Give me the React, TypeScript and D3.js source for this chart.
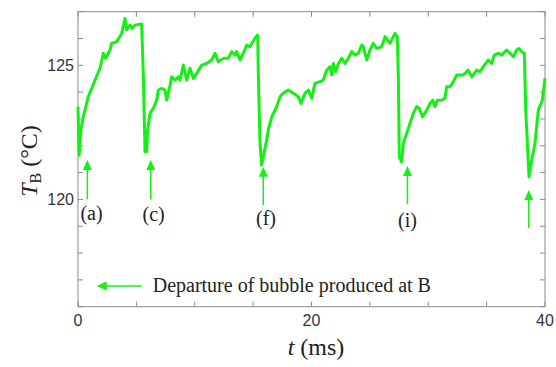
import React from "react";
import * as d3 from "d3";

// Bubble-site temperature record T_B over time
const timeMs = [
  0.0, 0.1, 0.25, 0.45, 0.88, 1.46, 1.88, 2.17, 2.37, 2.74, 2.88, 3.31, 3.74, 4.03, 4.17, 4.45, 4.65, 4.88, 5.45,
  5.6, 5.74, 5.88, 5.97, 6.17, 6.45, 6.74, 6.88, 7.17, 7.45, 7.6, 7.88, 8.02, 8.31, 8.6, 8.74, 9.02, 9.31, 9.59,
  9.88, 10.17, 10.6, 11.02, 11.45, 11.74, 12.02, 12.45, 12.87, 13.17, 13.45, 13.59, 13.88, 14.16, 14.45, 14.73,
  15.16, 15.39, 15.44, 15.59, 15.73, 15.87, 16.16, 16.3, 16.59, 17.02, 17.3, 17.59, 18.01, 18.44, 18.87, 19.1,
  19.44, 19.73, 20.01, 20.3, 20.73, 21.01, 21.3, 21.58, 21.73, 21.87, 22.07, 22.3, 22.59, 22.87, 23.15, 23.44,
  23.73, 24.01, 24.3, 24.44, 24.73, 25.01, 25.29, 25.58, 26.01, 26.3, 26.72, 27.15, 27.35, 27.44, 27.52, 27.72,
  27.86, 28.15, 28.44, 28.72, 29.01, 29.23, 29.52, 29.87, 30.15, 30.38, 30.58, 30.78, 31.15, 31.43, 31.58, 31.86,
  32.15, 32.44, 32.72, 33.0, 33.43, 33.72, 34.15, 34.43, 34.72, 35.14, 35.43, 35.66, 36.0, 36.29, 36.72, 37.0,
  37.29, 37.57, 37.77, 38.0, 38.23, 38.35, 38.63, 38.86, 39.14, 39.43, 39.77, 40.0,
];
const tempB = [
  123.46, 121.65, 122.6, 123.08, 123.83, 124.45, 124.89, 125.45, 125.26, 125.57, 125.82, 125.88, 126.19, 126.75,
  126.32, 126.5, 126.38, 126.5, 126.54, 124.57, 121.78, 121.78, 122.59, 123.21, 123.4, 123.7, 124.08, 124.14,
  124.08, 123.7, 124.25, 124.57, 124.45, 124.57, 124.45, 125.01, 124.45, 124.89, 124.51, 124.7, 125.01, 125.07,
  125.2, 125.45, 125.13, 125.26, 125.26, 125.51, 125.38, 125.51, 125.2, 125.45, 125.76, 125.69, 126.01, 126.13,
  124.82, 122.09, 121.28, 121.59, 122.21, 122.59, 123.08, 123.46, 123.83, 123.96, 124.08, 123.96, 123.83, 123.58,
  123.96, 124.08, 123.77, 124.33, 124.39, 124.45, 124.82, 124.95, 124.64, 125.07, 124.76, 125.07, 125.26, 125.07,
  125.26, 125.51, 125.38, 125.45, 125.76, 125.69, 125.2, 125.57, 125.82, 125.63, 125.69, 126.07, 125.82, 126.19,
  126.07, 124.57, 121.59, 121.4, 122.09, 122.46, 122.84, 123.21, 123.46, 123.4, 123.08, 123.33, 123.58, 123.7,
  123.46, 123.7, 123.7, 123.77, 124.2, 124.2, 124.39, 124.64, 124.64, 124.64, 124.82, 124.57, 124.82, 124.76,
  124.95, 125.2, 125.07, 125.38, 125.45, 125.38, 125.57, 125.45, 125.32, 125.57, 125.63, 125.51, 125.45, 123.33,
  120.84, 121.47, 122.09, 123.33, 123.7, 124.51,
];

// Departure markers: time, arrow tip temperature, arrow tail temperature
const departureT = [0.8, 6.23, 15.87, 28.22, 38.61];
const departureTip = [121.47, 121.47, 121.22, 121.25, 120.35];
const departureTail = [120.0, 120.0, 119.79, 119.82, 118.93];

// Frame labels
const frameLabels = ["(a)", "(c)", "(f)", "(i)"];
const frameLabelT = [1.16, 6.48, 16.1, 28.22];
const frameLabelTemp = [119.23, 119.2, 119.04, 118.98];

const xTicks = [0, 5, 10, 15, 20, 25, 30, 35, 40];
const xTickLabels = [0, 20, 40];
const yTicks = [116, 117, 118, 119, 120, 121, 122, 123, 124, 125, 126, 127];
const yTickLabels = [120, 125];

const legendText = "Departure of bubble produced at B";

const W = 556;
const H = 367;
const GREEN = "#14f014";
const AXIS = "#8a8a8a";
const SANS = "'Liberation Sans', Arial, sans-serif";
const SERIF = "'Liberation Serif', 'Times New Roman', serif";

export default function App() {
  const x = d3.scaleLinear().domain([0, 40]).range([78, 545]);
  const y = d3.scaleLinear().domain([116, 127]).range([306.7, 11.7]);
  const [x0, x1] = x.range();
  const [yb, yt] = y.range();
  const tick = 5;

  const pts = timeMs.map((t, i) => [t, tempB[i]] as [number, number]);
  const line = d3
    .line<[number, number]>()
    .x((d) => x(d[0]))
    .y((d) => y(d[1]));

  const headLen = 10;
  const headHalf = 4.5;

  const legendY = y(116.77);
  const legendTip = x(1.6);
  const legendTail = x(5.45);

  return (
    <svg
      width={W}
      height={H}
      style={{ position: "absolute", left: 0, top: 0, background: "#fff" }}
    >
      {/* frame */}
      <rect x={x0} y={yt} width={x1 - x0} height={yb - yt} fill="none" stroke={AXIS} strokeWidth={1} />
      {/* ticks on all four sides, pointing inward */}
      {xTicks.map((t) => (
        <g key={"xt" + t} stroke={AXIS} strokeWidth={1}>
          <line x1={x(t)} x2={x(t)} y1={yb} y2={yb - tick} />
          <line x1={x(t)} x2={x(t)} y1={yt} y2={yt + tick} />
        </g>
      ))}
      {yTicks.map((v) => (
        <g key={"yt" + v} stroke={AXIS} strokeWidth={1}>
          <line x1={x0} x2={x0 + tick} y1={y(v)} y2={y(v)} />
          <line x1={x1} x2={x1 - tick} y1={y(v)} y2={y(v)} />
        </g>
      ))}
      {xTickLabels.map((t) => (
        <text key={"xl" + t} x={x(t)} y={yb + 19} textAnchor="middle" fontFamily={SANS} fontSize={16} fill="#333">
          {t}
        </text>
      ))}
      {yTickLabels.map((v) => (
        <text
          key={"yl" + v}
          x={x0 - 4}
          y={y(v)}
          dy="0.36em"
          textAnchor="end"
          fontFamily={SANS}
          fontSize={16}
          fill="#333"
        >
          {v}
        </text>
      ))}

      {/* axis titles */}
      <text x={316} y={355} textAnchor="middle" fontFamily={SERIF} fontSize={24} fill="#222">
        <tspan fontStyle="italic">t</tspan>
        <tspan> (ms)</tspan>
      </text>
      <text
        transform="translate(37,161) rotate(-90)"
        textAnchor="middle"
        fontFamily={SERIF}
        fontSize={24}
        fill="#222"
      >
        <tspan fontStyle="italic">T</tspan>
        <tspan fontSize={16} dy={4}>B</tspan>
        <tspan dy={-4}> (°C)</tspan>
      </text>

      {/* temperature trace */}
      <path d={line(pts) ?? ""} fill="none" stroke={GREEN} strokeWidth={3} strokeLinejoin="round" />

      {/* departure arrows */}
      {departureT.map((t, i) => {
        const cx = x(t);
        const tip = y(departureTip[i]);
        const tail = y(departureTail[i]);
        return (
          <g key={"arr" + i}>
            <line x1={cx} x2={cx} y1={tail} y2={tip + headLen - 1} stroke={GREEN} strokeWidth={1.5} />
            <path
              d={`M${cx},${tip} L${cx - headHalf},${tip + headLen} L${cx + headHalf},${tip + headLen} Z`}
              fill={GREEN}
            />
          </g>
        );
      })}

      {frameLabels.map((s, i) => (
        <text
          key={"fl" + i}
          x={x(frameLabelT[i])}
          y={y(frameLabelTemp[i])}
          textAnchor="middle"
          fontFamily={SERIF}
          fontSize={20}
          fill="#222"
        >
          {s}
        </text>
      ))}

      {/* legend */}
      <line x1={legendTail} x2={legendTip + headLen - 1} y1={legendY} y2={legendY} stroke={GREEN} strokeWidth={1.5} />
      <path
        d={`M${legendTip},${legendY} L${legendTip + headLen},${legendY - headHalf} L${legendTip + headLen},${legendY + headHalf} Z`}
        fill={GREEN}
      />
      <text x={152.7} y={legendY + 6} fontFamily={SERIF} fontSize={20} fill="#222">
        {legendText}
      </text>
    </svg>
  );
}
